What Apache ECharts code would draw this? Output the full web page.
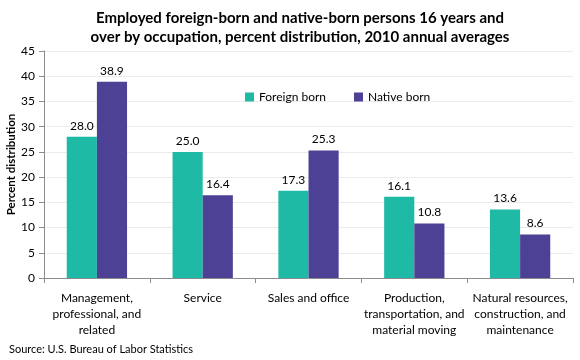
<!DOCTYPE html>
<html><head><meta charset="utf-8">
<script src="https://cdn.jsdelivr.net/npm/echarts@6/dist/echarts.min.js"></script>
<style>html,body{margin:0;padding:0;background:#fff}#c{width:580px;height:360px}</style>
</head><body><div id="c"></div>
<script>
var categories = ["Management,\nprofessional, and\nrelated", "Service", "Sales and office", "Production,\ntransportation, and\nmaterial moving", "Natural resources,\nconstruction, and\nmaintenance"];
var foreignBorn = [28.0, 25.0, 17.3, 16.1, 13.6];
var nativeBorn = [38.9, 16.4, 25.3, 10.8, 8.6];
var seriesNames = ["Foreign born", "Native born"];
var FONT = "Lato, 'Open Sans', sans-serif";
var chart = echarts.init(document.getElementById('c'));
chart.setOption({
  animation: false,
  textStyle: {fontFamily: FONT},
  title: [{
    text: "Employed foreign-born and native-born persons 16 years and\nover by occupation, percent distribution, 2010 annual averages",
    left: 295, top: 4, textAlign: 'center',
    textStyle: {fontFamily: FONT, fontSize: 15, fontWeight: 'bold', color: '#000', lineHeight: 19}
  }, {
    text: "Source: U.S. Bureau of Labor Statistics",
    left: 4, top: 339,
    textStyle: {fontFamily: FONT, fontSize: 11, fontWeight: 'normal', color: '#000'}
  }],
  legend: {
    data: seriesNames, left: 240, top: 86, itemWidth: 9, itemHeight: 9, itemGap: 28,
    icon: 'rect',
    textStyle: {fontFamily: FONT, fontSize: 12, color: '#000'}
  },
  grid: {left: 44, right: 7, top: 51, bottom: 82, containLabel: false, outerBoundsMode: 'none'},
  xAxis: {
    type: 'category', data: categories,
    axisLine: {lineStyle: {color: '#8c8c8c'}},
    axisTick: {show: true, alignWithLabel: false, length: 5, lineStyle: {color: '#8c8c8c'}},
    axisLabel: {interval: 0, fontFamily: FONT, fontSize: 12, color: '#000', lineHeight: 16, margin: 12}
  },
  yAxis: {
    type: 'value', min: 0, max: 45, interval: 5,
    name: 'Percent distribution', nameLocation: 'middle', nameGap: 27, nameMoveOverlap: false,
    nameTextStyle: {fontFamily: FONT, fontSize: 11.5, fontWeight: 'bold', color: '#000'},
    axisLine: {show: true, lineStyle: {color: '#8c8c8c'}},
    axisTick: {show: true, length: 5, lineStyle: {color: '#8c8c8c'}},
    axisLabel: {fontFamily: FONT, fontSize: 12, color: '#000', margin: 9},
    splitLine: {lineStyle: {color: '#ebebeb'}}
  },
  series: [{
    name: seriesNames[0], type: 'bar', data: foreignBorn, barGap: '0%', barCategoryGap: '43%',
    itemStyle: {color: '#1fbaa5'},
    label: {show: true, position: 'top', distance: 5, formatter: function(p){return p.value.toFixed(1);}, fontFamily: FONT, fontSize: 12, color: '#000'}
  }, {
    name: seriesNames[1], type: 'bar', data: nativeBorn,
    itemStyle: {color: '#4d4196'},
    label: {show: true, position: 'top', distance: 5, formatter: function(p){return p.value.toFixed(1);}, fontFamily: FONT, fontSize: 12, color: '#000'}
  }]
});
</script></body></html>
